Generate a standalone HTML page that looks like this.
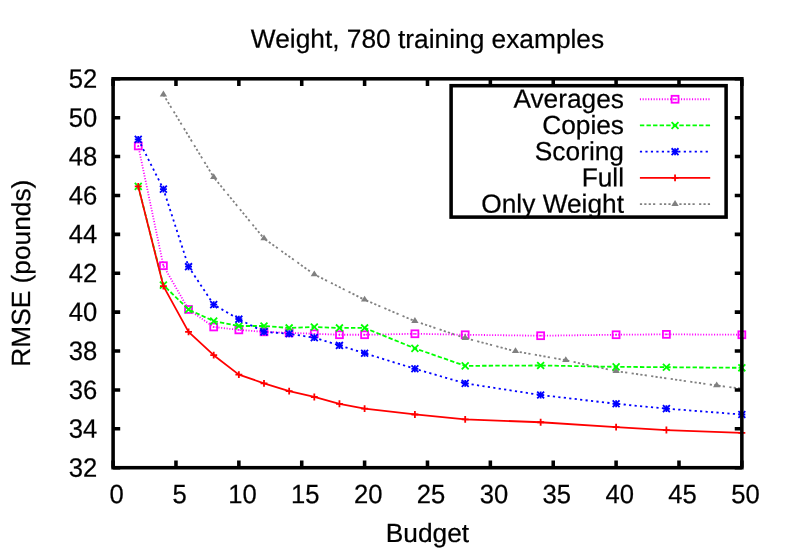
<!DOCTYPE html>
<html><head><meta charset="utf-8"><title>Weight, 780 training examples</title>
<style>html,body{margin:0;padding:0;background:#fff}svg{display:block;will-change:transform}text{font-family:"Liberation Sans",sans-serif;font-size:26.3px;fill:#000;stroke:#000;stroke-width:.22px;text-rendering:geometricPrecision}</style></head><body>
<svg width="789" height="552" viewBox="0 0 789 552">
<rect width="789" height="552" fill="#fff"/>
<text x="97.30" y="476.70" text-anchor="end" transform="matrix(0.975 0.0005 0 1.015 2.4325 -7.1991)">32</text>
<text x="97.30" y="437.81" text-anchor="end" transform="matrix(0.975 0.0005 0 1.015 2.4325 -6.6158)">34</text>
<text x="97.30" y="398.92" text-anchor="end" transform="matrix(0.975 0.0005 0 1.015 2.4325 -6.0324)">36</text>
<text x="97.30" y="360.03" text-anchor="end" transform="matrix(0.975 0.0005 0 1.015 2.4325 -5.4491)">38</text>
<text x="97.30" y="321.14" text-anchor="end" transform="matrix(0.975 0.0005 0 1.015 2.4325 -4.8657)">40</text>
<text x="97.30" y="282.25" text-anchor="end" transform="matrix(0.975 0.0005 0 1.015 2.4325 -4.2824)">42</text>
<text x="97.30" y="243.36" text-anchor="end" transform="matrix(0.975 0.0005 0 1.015 2.4325 -3.6990)">44</text>
<text x="97.30" y="204.47" text-anchor="end" transform="matrix(0.975 0.0005 0 1.015 2.4325 -3.1157)">46</text>
<text x="97.30" y="165.58" text-anchor="end" transform="matrix(0.975 0.0005 0 1.015 2.4325 -2.5323)">48</text>
<text x="97.30" y="126.69" text-anchor="end" transform="matrix(0.975 0.0005 0 1.015 2.4325 -1.9490)">50</text>
<text x="97.30" y="87.80" text-anchor="end" transform="matrix(0.975 0.0005 0 1.015 2.4325 -1.3656)">52</text>
<text x="116.75" y="503.20" text-anchor="middle" transform="matrix(0.975 0.0005 0 1.015 2.9188 -7.6064)">0</text>
<text x="179.62" y="503.20" text-anchor="middle" transform="matrix(0.975 0.0005 0 1.015 4.4906 -7.6378)">5</text>
<text x="242.50" y="503.20" text-anchor="middle" transform="matrix(0.975 0.0005 0 1.015 6.0625 -7.6692)">10</text>
<text x="305.38" y="503.20" text-anchor="middle" transform="matrix(0.975 0.0005 0 1.015 7.6344 -7.7007)">15</text>
<text x="368.25" y="503.20" text-anchor="middle" transform="matrix(0.975 0.0005 0 1.015 9.2063 -7.7321)">20</text>
<text x="431.12" y="503.20" text-anchor="middle" transform="matrix(0.975 0.0005 0 1.015 10.7781 -7.7636)">25</text>
<text x="494.00" y="503.20" text-anchor="middle" transform="matrix(0.975 0.0005 0 1.015 12.3500 -7.7950)">30</text>
<text x="556.88" y="503.20" text-anchor="middle" transform="matrix(0.975 0.0005 0 1.015 13.9219 -7.8264)">35</text>
<text x="619.75" y="503.20" text-anchor="middle" transform="matrix(0.975 0.0005 0 1.015 15.4938 -7.8579)">40</text>
<text x="682.62" y="503.20" text-anchor="middle" transform="matrix(0.975 0.0005 0 1.015 17.0656 -7.8893)">45</text>
<text x="745.50" y="503.20" text-anchor="middle" transform="matrix(0.975 0.0005 0 1.015 18.6375 -7.9207)">50</text>
<text x="427.50" y="47.90" text-anchor="middle" transform="matrix(1.0 0.0005 0 1.0 0.0000 -0.2137)">Weight, 780 training examples</text>
<text x="427.50" y="542.00" text-anchor="middle" transform="matrix(1.0 0.0005 0 1.0 0.0000 -0.2137)">Budget</text>
<text transform="matrix(0.0005 -1 1 0 30.1 273.2)" text-anchor="middle">RMSE (pounds)</text>
<rect x="451.1" y="85.7" width="275.0" height="131.39999999999998" stroke="#000" stroke-width="3.55" fill="none"/>
<text x="624.00" y="107.90" text-anchor="end" transform="matrix(1.0 0.0005 0 1.0 0.0000 -0.3120)">Averages</text>
<path d="M639.9 99.25H710.2" stroke="#ff00ff" stroke-width="1.8" fill="none" stroke-dasharray="1.096,1.644"/>
<rect x="671.60" y="95.80" width="6.90" height="6.90" stroke="#ff00ff" stroke-width="1.8" fill="none"/><circle cx="675.05" cy="99.25" r="0.90" fill="#ff00ff"/>
<text x="624.00" y="134.12" text-anchor="end" transform="matrix(1.0 0.0005 0 1.0 0.0000 -0.3120)">Copies</text>
<path d="M639.9 125.47H710.2" stroke="#00ff00" stroke-width="1.8" fill="none" stroke-dasharray="4.384,2.192"/>
<path d="M671.60 122.02L678.50 128.92M671.60 128.92L678.50 122.02" stroke="#00ff00" stroke-width="1.8" fill="none"/>
<text x="624.00" y="160.34" text-anchor="end" transform="matrix(1.0 0.0005 0 1.0 0.0000 -0.3120)">Scoring</text>
<path d="M639.9 151.69H710.2" stroke="#0000ff" stroke-width="1.8" fill="none" stroke-dasharray="2.192,3.288"/>
<path d="M671.60 151.69H678.50M675.05 148.24V155.14" stroke="#0000ff" stroke-width="1.8" fill="none"/><path d="M671.60 148.24L678.50 155.14M671.60 155.14L678.50 148.24" stroke="#0000ff" stroke-width="1.8" fill="none"/>
<text x="624.00" y="186.56" text-anchor="end" transform="matrix(1.0 0.0005 0 1.0 0.0000 -0.3120)">Full</text>
<path d="M639.9 177.91H710.2" stroke="#ff0000" stroke-width="1.8" fill="none"/>
<path d="M671.60 177.91H678.50M675.05 174.46V181.36" stroke="#ff0000" stroke-width="1.8" fill="none"/>
<text x="624.00" y="212.78" text-anchor="end" transform="matrix(1.0 0.0005 0 1.0 0.0000 -0.3120)">Only Weight</text>
<path d="M639.9 204.13H710.2" stroke="#808080" stroke-width="1.8" fill="none" stroke-dasharray="2.192,2.192,2.192,2.192,2.192,2.192,2.192,4.384"/>
<path d="M675.05 200.03L671.39 205.96H678.71Z" fill="#808080"/>
<path d="M138.25 145.94L163.40 265.72L188.55 309.47L213.70 326.97L238.85 329.89L264.00 331.83L289.15 332.81L314.30 333.78L339.45 334.75L364.60 334.75L414.90 333.78L465.20 334.75L540.65 335.72L616.10 334.75L666.40 334.36L741.85 334.75" stroke="#ff00ff" stroke-width="1.8" fill="none" stroke-linejoin="round" stroke-dasharray="1.096,1.644"/>
<rect x="134.80" y="142.49" width="6.90" height="6.90" stroke="#ff00ff" stroke-width="1.8" fill="none"/><circle cx="138.25" cy="145.94" r="0.90" fill="#ff00ff"/>
<rect x="159.95" y="262.27" width="6.90" height="6.90" stroke="#ff00ff" stroke-width="1.8" fill="none"/><circle cx="163.40" cy="265.72" r="0.90" fill="#ff00ff"/>
<rect x="185.10" y="306.02" width="6.90" height="6.90" stroke="#ff00ff" stroke-width="1.8" fill="none"/><circle cx="188.55" cy="309.47" r="0.90" fill="#ff00ff"/>
<rect x="210.25" y="323.52" width="6.90" height="6.90" stroke="#ff00ff" stroke-width="1.8" fill="none"/><circle cx="213.70" cy="326.97" r="0.90" fill="#ff00ff"/>
<rect x="235.40" y="326.44" width="6.90" height="6.90" stroke="#ff00ff" stroke-width="1.8" fill="none"/><circle cx="238.85" cy="329.89" r="0.90" fill="#ff00ff"/>
<rect x="260.55" y="328.38" width="6.90" height="6.90" stroke="#ff00ff" stroke-width="1.8" fill="none"/><circle cx="264.00" cy="331.83" r="0.90" fill="#ff00ff"/>
<rect x="285.70" y="329.36" width="6.90" height="6.90" stroke="#ff00ff" stroke-width="1.8" fill="none"/><circle cx="289.15" cy="332.81" r="0.90" fill="#ff00ff"/>
<rect x="310.85" y="330.33" width="6.90" height="6.90" stroke="#ff00ff" stroke-width="1.8" fill="none"/><circle cx="314.30" cy="333.78" r="0.90" fill="#ff00ff"/>
<rect x="336.00" y="331.30" width="6.90" height="6.90" stroke="#ff00ff" stroke-width="1.8" fill="none"/><circle cx="339.45" cy="334.75" r="0.90" fill="#ff00ff"/>
<rect x="361.15" y="331.30" width="6.90" height="6.90" stroke="#ff00ff" stroke-width="1.8" fill="none"/><circle cx="364.60" cy="334.75" r="0.90" fill="#ff00ff"/>
<rect x="411.45" y="330.33" width="6.90" height="6.90" stroke="#ff00ff" stroke-width="1.8" fill="none"/><circle cx="414.90" cy="333.78" r="0.90" fill="#ff00ff"/>
<rect x="461.75" y="331.30" width="6.90" height="6.90" stroke="#ff00ff" stroke-width="1.8" fill="none"/><circle cx="465.20" cy="334.75" r="0.90" fill="#ff00ff"/>
<rect x="537.20" y="332.27" width="6.90" height="6.90" stroke="#ff00ff" stroke-width="1.8" fill="none"/><circle cx="540.65" cy="335.72" r="0.90" fill="#ff00ff"/>
<rect x="612.65" y="331.30" width="6.90" height="6.90" stroke="#ff00ff" stroke-width="1.8" fill="none"/><circle cx="616.10" cy="334.75" r="0.90" fill="#ff00ff"/>
<rect x="662.95" y="330.91" width="6.90" height="6.90" stroke="#ff00ff" stroke-width="1.8" fill="none"/><circle cx="666.40" cy="334.36" r="0.90" fill="#ff00ff"/>
<rect x="738.40" y="331.30" width="6.90" height="6.90" stroke="#ff00ff" stroke-width="1.8" fill="none"/><circle cx="741.85" cy="334.75" r="0.90" fill="#ff00ff"/>
<path d="M163.40 94.61L213.70 177.25L264.00 238.50L314.30 274.47L364.60 299.75L414.90 321.14L465.20 338.06L515.50 351.28L565.80 360.22L616.10 371.11L716.70 385.50L741.85 388.61" stroke="#808080" stroke-width="1.8" fill="none" stroke-linejoin="round" stroke-dasharray="2.192,2.192,2.192,2.192,2.192,2.192,2.192,4.384"/>
<path d="M163.40 90.51L159.74 96.43H167.06Z" fill="#808080"/>
<path d="M213.70 173.15L210.04 179.08H217.36Z" fill="#808080"/>
<path d="M264.00 234.40L260.34 240.33H267.66Z" fill="#808080"/>
<path d="M314.30 270.38L310.64 276.30H317.96Z" fill="#808080"/>
<path d="M364.60 295.65L360.94 301.58H368.26Z" fill="#808080"/>
<path d="M414.90 317.04L411.24 322.97H418.56Z" fill="#808080"/>
<path d="M465.20 333.96L461.54 339.89H468.86Z" fill="#808080"/>
<path d="M515.50 347.18L511.84 353.11H519.16Z" fill="#808080"/>
<path d="M565.80 356.13L562.14 362.05H569.46Z" fill="#808080"/>
<path d="M616.10 367.02L612.44 372.94H619.76Z" fill="#808080"/>
<path d="M716.70 381.41L713.04 387.33H720.36Z" fill="#808080"/>
<path d="M138.25 186.39L163.40 285.17L188.55 309.47L213.70 321.14L238.85 326.00L264.00 326.00L289.15 327.95L314.30 326.97L339.45 327.95L364.60 327.95L414.90 348.36L465.20 365.86L540.65 365.47L616.10 366.84L666.40 367.22L741.85 367.81" stroke="#00ff00" stroke-width="1.8" fill="none" stroke-linejoin="round" stroke-dasharray="4.384,2.192"/>
<path d="M134.80 182.94L141.70 189.84M134.80 189.84L141.70 182.94" stroke="#00ff00" stroke-width="1.8" fill="none"/>
<path d="M159.95 281.72L166.85 288.62M159.95 288.62L166.85 281.72" stroke="#00ff00" stroke-width="1.8" fill="none"/>
<path d="M185.10 306.02L192.00 312.92M185.10 312.92L192.00 306.02" stroke="#00ff00" stroke-width="1.8" fill="none"/>
<path d="M210.25 317.69L217.15 324.59M210.25 324.59L217.15 317.69" stroke="#00ff00" stroke-width="1.8" fill="none"/>
<path d="M235.40 322.55L242.30 329.45M235.40 329.45L242.30 322.55" stroke="#00ff00" stroke-width="1.8" fill="none"/>
<path d="M260.55 322.55L267.45 329.45M260.55 329.45L267.45 322.55" stroke="#00ff00" stroke-width="1.8" fill="none"/>
<path d="M285.70 324.50L292.60 331.40M285.70 331.40L292.60 324.50" stroke="#00ff00" stroke-width="1.8" fill="none"/>
<path d="M310.85 323.52L317.75 330.42M310.85 330.42L317.75 323.52" stroke="#00ff00" stroke-width="1.8" fill="none"/>
<path d="M336.00 324.50L342.90 331.40M336.00 331.40L342.90 324.50" stroke="#00ff00" stroke-width="1.8" fill="none"/>
<path d="M361.15 324.50L368.05 331.40M361.15 331.40L368.05 324.50" stroke="#00ff00" stroke-width="1.8" fill="none"/>
<path d="M411.45 344.91L418.35 351.81M411.45 351.81L418.35 344.91" stroke="#00ff00" stroke-width="1.8" fill="none"/>
<path d="M461.75 362.41L468.65 369.31M461.75 369.31L468.65 362.41" stroke="#00ff00" stroke-width="1.8" fill="none"/>
<path d="M537.20 362.02L544.10 368.92M537.20 368.92L544.10 362.02" stroke="#00ff00" stroke-width="1.8" fill="none"/>
<path d="M612.65 363.39L619.55 370.29M612.65 370.29L619.55 363.39" stroke="#00ff00" stroke-width="1.8" fill="none"/>
<path d="M662.95 363.77L669.85 370.67M662.95 370.67L669.85 363.77" stroke="#00ff00" stroke-width="1.8" fill="none"/>
<path d="M738.40 364.36L745.30 371.26M738.40 371.26L745.30 364.36" stroke="#00ff00" stroke-width="1.8" fill="none"/>
<path d="M138.25 139.33L163.40 189.11L188.55 266.69L213.70 304.61L238.85 319.20L264.00 331.83L289.15 333.78L314.30 337.67L339.45 345.45L364.60 353.22L414.90 368.78L465.20 383.36L540.65 395.03L616.10 403.78L666.40 408.64L741.85 414.48" stroke="#0000ff" stroke-width="1.8" fill="none" stroke-linejoin="round" stroke-dasharray="2.192,3.288"/>
<path d="M134.80 139.33H141.70M138.25 135.88V142.78" stroke="#0000ff" stroke-width="1.8" fill="none"/><path d="M134.80 135.88L141.70 142.78M134.80 142.78L141.70 135.88" stroke="#0000ff" stroke-width="1.8" fill="none"/>
<path d="M159.95 189.11H166.85M163.40 185.66V192.56" stroke="#0000ff" stroke-width="1.8" fill="none"/><path d="M159.95 185.66L166.85 192.56M159.95 192.56L166.85 185.66" stroke="#0000ff" stroke-width="1.8" fill="none"/>
<path d="M185.10 266.69H192.00M188.55 263.24V270.14" stroke="#0000ff" stroke-width="1.8" fill="none"/><path d="M185.10 263.24L192.00 270.14M185.10 270.14L192.00 263.24" stroke="#0000ff" stroke-width="1.8" fill="none"/>
<path d="M210.25 304.61H217.15M213.70 301.16V308.06" stroke="#0000ff" stroke-width="1.8" fill="none"/><path d="M210.25 301.16L217.15 308.06M210.25 308.06L217.15 301.16" stroke="#0000ff" stroke-width="1.8" fill="none"/>
<path d="M235.40 319.20H242.30M238.85 315.75V322.65" stroke="#0000ff" stroke-width="1.8" fill="none"/><path d="M235.40 315.75L242.30 322.65M235.40 322.65L242.30 315.75" stroke="#0000ff" stroke-width="1.8" fill="none"/>
<path d="M260.55 331.83H267.45M264.00 328.38V335.28" stroke="#0000ff" stroke-width="1.8" fill="none"/><path d="M260.55 328.38L267.45 335.28M260.55 335.28L267.45 328.38" stroke="#0000ff" stroke-width="1.8" fill="none"/>
<path d="M285.70 333.78H292.60M289.15 330.33V337.23" stroke="#0000ff" stroke-width="1.8" fill="none"/><path d="M285.70 330.33L292.60 337.23M285.70 337.23L292.60 330.33" stroke="#0000ff" stroke-width="1.8" fill="none"/>
<path d="M310.85 337.67H317.75M314.30 334.22V341.12" stroke="#0000ff" stroke-width="1.8" fill="none"/><path d="M310.85 334.22L317.75 341.12M310.85 341.12L317.75 334.22" stroke="#0000ff" stroke-width="1.8" fill="none"/>
<path d="M336.00 345.45H342.90M339.45 342.00V348.90" stroke="#0000ff" stroke-width="1.8" fill="none"/><path d="M336.00 342.00L342.90 348.90M336.00 348.90L342.90 342.00" stroke="#0000ff" stroke-width="1.8" fill="none"/>
<path d="M361.15 353.22H368.05M364.60 349.77V356.67" stroke="#0000ff" stroke-width="1.8" fill="none"/><path d="M361.15 349.77L368.05 356.67M361.15 356.67L368.05 349.77" stroke="#0000ff" stroke-width="1.8" fill="none"/>
<path d="M411.45 368.78H418.35M414.90 365.33V372.23" stroke="#0000ff" stroke-width="1.8" fill="none"/><path d="M411.45 365.33L418.35 372.23M411.45 372.23L418.35 365.33" stroke="#0000ff" stroke-width="1.8" fill="none"/>
<path d="M461.75 383.36H468.65M465.20 379.91V386.81" stroke="#0000ff" stroke-width="1.8" fill="none"/><path d="M461.75 379.91L468.65 386.81M461.75 386.81L468.65 379.91" stroke="#0000ff" stroke-width="1.8" fill="none"/>
<path d="M537.20 395.03H544.10M540.65 391.58V398.48" stroke="#0000ff" stroke-width="1.8" fill="none"/><path d="M537.20 391.58L544.10 398.48M537.20 398.48L544.10 391.58" stroke="#0000ff" stroke-width="1.8" fill="none"/>
<path d="M612.65 403.78H619.55M616.10 400.33V407.23" stroke="#0000ff" stroke-width="1.8" fill="none"/><path d="M612.65 400.33L619.55 407.23M612.65 407.23L619.55 400.33" stroke="#0000ff" stroke-width="1.8" fill="none"/>
<path d="M662.95 408.64H669.85M666.40 405.19V412.09" stroke="#0000ff" stroke-width="1.8" fill="none"/><path d="M662.95 405.19L669.85 412.09M662.95 412.09L669.85 405.19" stroke="#0000ff" stroke-width="1.8" fill="none"/>
<path d="M738.40 414.48H745.30M741.85 411.03V417.93" stroke="#0000ff" stroke-width="1.8" fill="none"/><path d="M738.40 411.03L745.30 417.93M738.40 417.93L745.30 411.03" stroke="#0000ff" stroke-width="1.8" fill="none"/>
<path d="M138.25 186.39L163.40 286.14L188.55 331.83L213.70 355.17L238.85 374.61L264.00 383.36L289.15 391.14L314.30 396.98L339.45 403.78L364.60 408.64L414.90 414.48L465.20 419.34L540.65 422.25L616.10 427.12L666.40 430.03L741.85 432.95" stroke="#ff0000" stroke-width="1.8" fill="none" stroke-linejoin="round"/>
<path d="M134.80 186.39H141.70M138.25 182.94V189.84" stroke="#ff0000" stroke-width="1.8" fill="none"/>
<path d="M159.95 286.14H166.85M163.40 282.69V289.59" stroke="#ff0000" stroke-width="1.8" fill="none"/>
<path d="M185.10 331.83H192.00M188.55 328.38V335.28" stroke="#ff0000" stroke-width="1.8" fill="none"/>
<path d="M210.25 355.17H217.15M213.70 351.72V358.62" stroke="#ff0000" stroke-width="1.8" fill="none"/>
<path d="M235.40 374.61H242.30M238.85 371.16V378.06" stroke="#ff0000" stroke-width="1.8" fill="none"/>
<path d="M260.55 383.36H267.45M264.00 379.91V386.81" stroke="#ff0000" stroke-width="1.8" fill="none"/>
<path d="M285.70 391.14H292.60M289.15 387.69V394.59" stroke="#ff0000" stroke-width="1.8" fill="none"/>
<path d="M310.85 396.98H317.75M314.30 393.53V400.43" stroke="#ff0000" stroke-width="1.8" fill="none"/>
<path d="M336.00 403.78H342.90M339.45 400.33V407.23" stroke="#ff0000" stroke-width="1.8" fill="none"/>
<path d="M361.15 408.64H368.05M364.60 405.19V412.09" stroke="#ff0000" stroke-width="1.8" fill="none"/>
<path d="M411.45 414.48H418.35M414.90 411.03V417.93" stroke="#ff0000" stroke-width="1.8" fill="none"/>
<path d="M461.75 419.34H468.65M465.20 415.89V422.79" stroke="#ff0000" stroke-width="1.8" fill="none"/>
<path d="M537.20 422.25H544.10M540.65 418.80V425.70" stroke="#ff0000" stroke-width="1.8" fill="none"/>
<path d="M612.65 427.12H619.55M616.10 423.67V430.57" stroke="#ff0000" stroke-width="1.8" fill="none"/>
<path d="M662.95 430.03H669.85M666.40 426.58V433.48" stroke="#ff0000" stroke-width="1.8" fill="none"/>
<path d="M738.40 432.95H745.30M741.85 429.50V436.40" stroke="#ff0000" stroke-width="1.8" fill="none"/>
<path d="M113.10 467.70h7.1M741.85 467.70h-7.1M113.10 428.81h7.1M741.85 428.81h-7.1M113.10 389.92h7.1M741.85 389.92h-7.1M113.10 351.03h7.1M741.85 351.03h-7.1M113.10 312.14h7.1M741.85 312.14h-7.1M113.10 273.25h7.1M741.85 273.25h-7.1M113.10 234.36h7.1M741.85 234.36h-7.1M113.10 195.47h7.1M741.85 195.47h-7.1M113.10 156.58h7.1M741.85 156.58h-7.1M113.10 117.69h7.1M741.85 117.69h-7.1M113.10 78.80h7.1M741.85 78.80h-7.1M113.10 467.70v-7.1M113.10 78.80v7.1M175.97 467.70v-7.1M175.97 78.80v7.1M238.85 467.70v-7.1M238.85 78.80v7.1M301.73 467.70v-7.1M301.73 78.80v7.1M364.60 467.70v-7.1M364.60 78.80v7.1M427.48 467.70v-7.1M427.48 78.80v7.1M490.35 467.70v-7.1M490.35 78.80v7.1M553.23 467.70v-7.1M553.23 78.80v7.1M616.10 467.70v-7.1M616.10 78.80v7.1M678.98 467.70v-7.1M678.98 78.80v7.1M741.85 467.70v-7.1M741.85 78.80v7.1" stroke="#000" stroke-width="3.55" fill="none"/>
<rect x="113.1" y="78.8" width="628.75" height="388.9" stroke="#000" stroke-width="3.55" fill="none"/>
</svg></body></html>
